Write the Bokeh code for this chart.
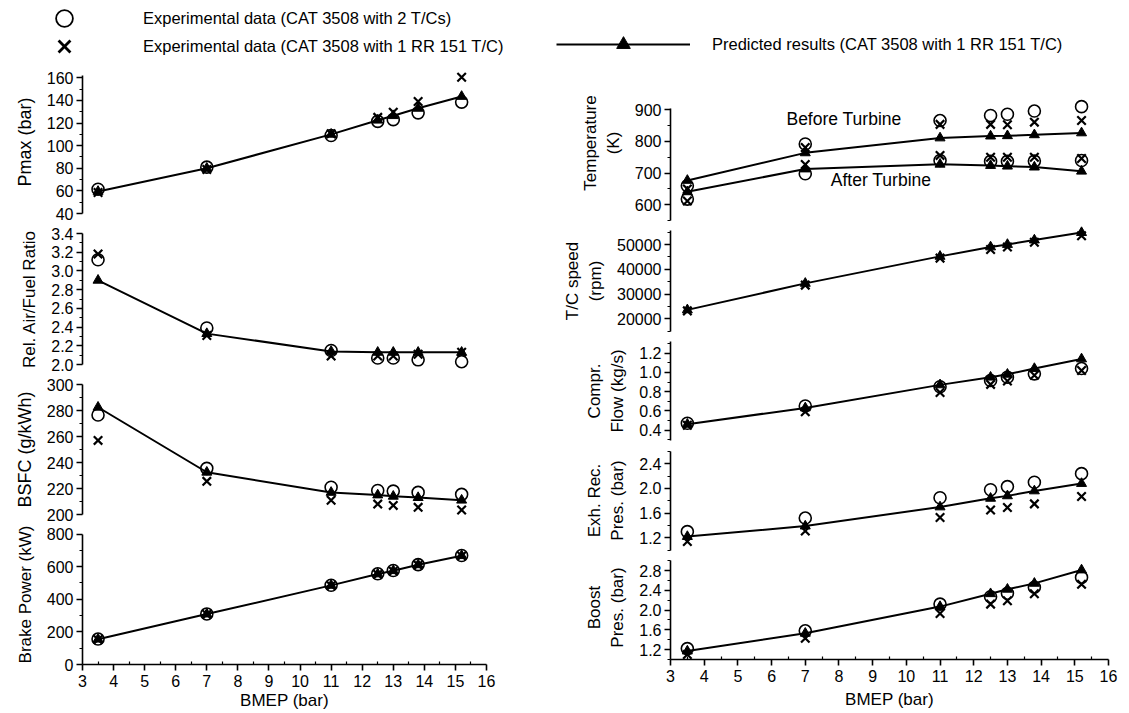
from bokeh.plotting import figure
from bokeh.models import Range1d, FixedTicker, PrintfTickFormatter, Legend, LegendItem, Label
from bokeh.layouts import column, row
from bokeh.embed import file_html
from bokeh.resources import INLINE

# ---------------- data ----------------
bmep = [3.5, 7.0, 11.0, 12.5, 13.0, 13.8, 15.2]

pmax_2tc = [61.5, 81.0, 109.0, 121.5, 123.0, 129.0, 138.5]
pmax_1tc = [58.5, 79.0, 110.5, 125.0, 129.5, 139.0, 160.5]
pmax_pred = [59.5, 80.0, 110.0, 122.5, 126.5, 133.0, 143.5]

afr_2tc = [3.12, 2.39, 2.15, 2.07, 2.07, 2.05, 2.03]
afr_1tc = [3.18, 2.31, 2.09, 2.09, 2.09, 2.11, 2.13]
afr_pred = [2.90, 2.33, 2.14, 2.13, 2.13, 2.13, 2.13]

bsfc_2tc = [276.5, 235.5, 221.0, 218.5, 218.0, 217.0, 215.5]
bsfc_1tc = [257.0, 225.5, 211.0, 208.0, 207.0, 205.5, 203.5]
bsfc_pred = [282.5, 232.5, 217.0, 215.0, 214.0, 213.0, 211.0]

power_2tc = [156, 310, 486, 556, 576, 612, 668]
power_1tc = [152, 306, 483, 552, 572, 609, 665]
power_pred = [155, 309, 485, 555, 575, 611, 667]

tbt_2tc = [660, 792, 866, 882, 886, 896, 910]
tbt_1tc = [650, 781, 854, 854, 853, 861, 866]
tbt_pred = [677, 764, 811, 817, 818, 821, 827]
tat_2tc = [618, 698, 740, 737, 737, 738, 740]
tat_1tc = [612, 727, 756, 750, 750, 750, 746]
tat_pred = [641, 713, 728, 724, 722, 719, 706]

speed_1tc = [23200, 33600, 44500, 48000, 49000, 50900, 53500]
speed_pred = [23600, 34300, 45200, 49000, 50000, 51800, 54800]

flow_2tc = [0.47, 0.65, 0.85, 0.915, 0.95, 0.985, 1.04]
flow_1tc = [0.45, 0.59, 0.79, 0.875, 0.91, 0.97, 1.02]
flow_pred = [0.46, 0.63, 0.87, 0.95, 0.98, 1.04, 1.14]

exh_2tc = [1.30, 1.52, 1.85, 1.98, 2.03, 2.10, 2.24]
exh_1tc = [1.14, 1.31, 1.53, 1.65, 1.69, 1.75, 1.87]
exh_pred = [1.22, 1.39, 1.70, 1.84, 1.88, 1.96, 2.08]

boost_2tc = [1.22, 1.58, 2.12, 2.27, 2.34, 2.46, 2.66]
boost_1tc = [1.10, 1.43, 1.93, 2.12, 2.19, 2.33, 2.52]
boost_pred = [1.17, 1.53, 2.07, 2.33, 2.42, 2.54, 2.81]

# tick labels
bmep_ticks = [3, 4, 5, 6, 7, 8, 9, 10, 11, 12, 13, 14, 15, 16]
bmep_minor = [3.5, 4.5, 5.5, 6.5, 7.5, 8.5, 9.5, 10.5, 11.5, 12.5, 13.5, 14.5, 15.5]
pmax_ticks = [40, 60, 80, 100, 120, 140, 160]
pmax_minor = [50, 70, 90, 110, 130, 150]
afr_ticks = [2.0, 2.2, 2.4, 2.6, 2.8, 3.0, 3.2, 3.4]
afr_minor = [2.1, 2.3, 2.5, 2.7, 2.9, 3.1, 3.3]
bsfc_ticks = [200, 220, 240, 260, 280, 300]
bsfc_minor = [210, 230, 250, 270, 290]
power_ticks = [0, 200, 400, 600, 800]
power_minor = [100, 300, 500, 700]
temp_ticks = [600, 700, 800, 900]
temp_minor = [550, 650, 750, 850]
speed_ticks = [20000, 30000, 40000, 50000]
speed_minor = [15000, 25000, 35000, 45000, 55000]
flow_ticks = [0.4, 0.6, 0.8, 1.0, 1.2]
flow_minor = [0.3, 0.5, 0.7, 0.9, 1.1, 1.3]
exh_ticks = [1.2, 1.6, 2.0, 2.4]
exh_minor = [1.0, 1.4, 1.8, 2.2, 2.6]
boost_ticks = [1.2, 1.6, 2.0, 2.4, 2.8]
boost_minor = [1.0, 1.4, 1.8, 2.2, 2.6, 3.0]

FONT = "Liberation Sans"
W_LEFT, W_RIGHT = 560, 569
LEG_H = 60


def style_axis(ax, label_size="18px"):
    ax.axis_line_width = 1.6
    ax.axis_line_color = "black"
    ax.major_tick_line_width = 1.6
    ax.major_tick_line_color = "black"
    ax.minor_tick_line_width = 1.2
    ax.minor_tick_line_color = "black"
    ax.major_tick_out = 6
    ax.major_tick_in = 0
    ax.minor_tick_out = 3
    ax.minor_tick_in = 0
    ax.major_label_text_font = FONT
    ax.major_label_text_font_size = "16px"
    ax.major_label_text_color = "black"
    ax.axis_label_text_font = FONT
    ax.axis_label_text_font_size = label_size
    ax.axis_label_text_font_style = "normal"
    ax.axis_label_text_color = "black"
    ax.major_label_standoff = 3
    ax.axis_label_standoff = 9


def make_panel(width, height, fx0, fx1, lo, px_lo, hi, px_hi, bounds,
               ticks, minor, fmt, ylabel, bottom=0, label_size="18px",
               x_std=(4, 2)):
    frame_bottom = height - bottom
    s = (px_lo - px_hi) / (hi - lo)
    y0 = lo - (frame_bottom - px_lo) / s
    y1 = hi + px_hi / s
    p = figure(width=width, height=height, x_range=Range1d(3, 16),
               y_range=Range1d(y0, y1), output_backend="svg",
               toolbar_location=None, title=None,
               x_axis_location="below" if bottom else None,
               y_axis_location="left",
               min_border_left=fx0, min_border_right=width - fx1,
               min_border_top=0, min_border_bottom=bottom)
    p.outline_line_color = None
    p.grid.visible = False
    p.background_fill_color = "white"
    p.border_fill_color = "white"
    ya = p.yaxis[0]
    style_axis(ya, label_size)
    ya.ticker = FixedTicker(ticks=ticks, minor_ticks=minor)
    ya.formatter = PrintfTickFormatter(format=fmt)
    ya.bounds = bounds
    ya.axis_label = ylabel
    if bottom:
        xa = p.xaxis[0]
        style_axis(xa, "17px")
        xa.ticker = FixedTicker(ticks=bmep_ticks, minor_ticks=bmep_minor)
        xa.major_tick_out = 6
        xa.minor_tick_out = 0
        xa.minor_tick_in = 3
        xa.major_label_standoff = x_std[0]
        xa.axis_label_standoff = x_std[1]
        xa.axis_label = "BMEP (bar)"
    return p


def add_series(p, pred, exp2=None, exp1=None):
    p.line(bmep, pred, line_width=2, line_color="black")
    p.scatter(bmep, pred, marker="triangle", size=10,
              fill_color="black", line_color="black")
    if exp2 is not None:
        p.scatter(bmep, exp2, marker="circle", size=12, fill_color=None,
                  line_color="black", line_width=1.6)
    if exp1 is not None:
        p.scatter(bmep, exp1, marker="x", size=12, line_color="black",
                  line_width=2.2)


# ---------------- left column ----------------
LX0, LX1 = 82, 486
p_pmax = make_panel(W_LEFT, 163, LX0, LX1, 40, 153, 160, 17.3, (40, 162),
                    pmax_ticks, pmax_minor, "%d", "Pmax (bar)")
add_series(p_pmax, pmax_pred, pmax_2tc, pmax_1tc)

p_afr = make_panel(W_LEFT, 151, LX0, LX1, 2.0, 141, 3.4, 10, (2.0, 3.4),
                   afr_ticks, afr_minor, "%.1f", "Rel. Air/Fuel Ratio",
                   label_size="17px")
add_series(p_afr, afr_pred, afr_2tc, afr_1tc)

p_bsfc = make_panel(W_LEFT, 150, LX0, LX1, 200, 140, 300, 10, (200, 300),
                    bsfc_ticks, bsfc_minor, "%d", "BSFC (g/kWh)")
add_series(p_bsfc, bsfc_pred, bsfc_2tc, bsfc_1tc)

p_power = make_panel(W_LEFT, 189, LX0, LX1, 0, 140, 800, 9.5, (0, 800),
                     power_ticks, power_minor, "%d", "Brake Power (kW)", bottom=49,
                     label_size="17px", x_std=(4, 1))
add_series(p_power, power_pred, power_2tc, power_1tc)

# ---------------- right column ----------------
RX0, RX1 = 108, 548
p_temp = make_panel(W_RIGHT, 165, RX0, RX1, 600, 144.3, 900, 49.3, (550, 905),
                    temp_ticks, temp_minor, "%d", "Temperature\n(K)", label_size="17px")
add_series(p_temp, tbt_pred, tbt_2tc, tbt_1tc)
add_series(p_temp, tat_pred, tat_2tc, tat_1tc)
p_temp.add_layout(Label(x=8.15, y=872, text="Before Turbine", text_align="center",
                        text_baseline="middle", text_font=FONT,
                        text_font_size="17.5px", text_color="black"))
p_temp.add_layout(Label(x=9.25, y=677, text="After Turbine", text_align="center",
                        text_baseline="middle", text_font=FONT,
                        text_font_size="17.5px", text_color="black"))

p_speed = make_panel(W_RIGHT, 111, RX0, RX1, 20000, 93.3, 50000, 19, (15000, 55500),
                     speed_ticks, speed_minor, "%d", "T/C speed\n(rpm)", label_size="17px")
add_series(p_speed, speed_pred, None, speed_1tc)

p_flow = make_panel(W_RIGHT, 109, RX0, RX1, 0.4, 93.5, 1.2, 16.7, (0.29, 1.32),
                    flow_ticks, flow_minor, "%.1f", "Compr.\nFlow (kg/s)", label_size="17px")
add_series(p_flow, flow_pred, flow_2tc, flow_1tc)

p_exh = make_panel(W_RIGHT, 110, RX0, RX1, 1.2, 92.3, 2.4, 18.3, (1.0, 2.6),
                   exh_ticks, exh_minor, "%.1f", "Exh. Rec.\nPres. (bar)", label_size="17px")
add_series(p_exh, exh_pred, exh_2tc, exh_1tc)

p_boost = make_panel(W_RIGHT, 158, RX0, RX1, 1.0, 104, 2.8, 15, (1.0, 3.0),
                     boost_ticks, boost_minor, "%.1f", "Boost\nPres. (bar)",
                     bottom=54, label_size="17px", x_std=(4, 5))
add_series(p_boost, boost_pred, boost_2tc, boost_1tc)

# ---------------- legend strip ----------------
lf = figure(width=1129, height=LEG_H, x_range=Range1d(0, 1), y_range=Range1d(0, 1),
            x_axis_location=None, y_axis_location=None, toolbar_location=None,
            output_backend="svg", title=None, min_border=0)
lf.outline_line_color = None
lf.grid.visible = False
off = [-10]  # legend-only renderers: sample point kept outside the visible range
rc = lf.scatter(off, off, marker="circle", size=18, fill_color=None,
                line_color="black", line_width=1.8)
rx = lf.scatter(off, off, marker="x", size=18, line_color="black", line_width=2.8)
rl = lf.line(off, off, line_width=2, line_color="black")
rt = lf.scatter(off, off, marker="triangle", size=14, fill_color="black",
                line_color="black")


def legend_box(label, renderers, loc, gw, gh, standoff):
    return Legend(items=[LegendItem(label=label, renderers=renderers)],
                  location=loc, orientation="vertical", glyph_width=gw,
                  glyph_height=gh, label_height=gh, padding=0, margin=0,
                  border_line_color=None, background_fill_alpha=0,
                  label_standoff=standoff, label_text_font=FONT,
                  label_text_font_size="16.5px", label_text_color="black")


lf.add_layout(legend_box("Experimental data (CAT 3508 with 2 T/Cs)", [rc],
                         (43, 21), 42, 42, 58))
lf.add_layout(legend_box("Experimental data (CAT 3508 with 1 RR 151 T/C)", [rx],
                         (43, -7), 42, 42, 58))
lf.add_layout(legend_box("Predicted results (CAT 3508 with 1 RR 151 T/C)", [rl, rt],
                         (556, -1), 134, 34, 22))

left = column(p_pmax, p_afr, p_bsfc, p_power, spacing=0)
right = column(p_temp, p_speed, p_flow, p_exh, p_boost, spacing=0)
layout = column(lf, row(left, right, spacing=0), spacing=0)

open("out.html", "w").write(file_html(layout, INLINE, title="Engine performance"))
